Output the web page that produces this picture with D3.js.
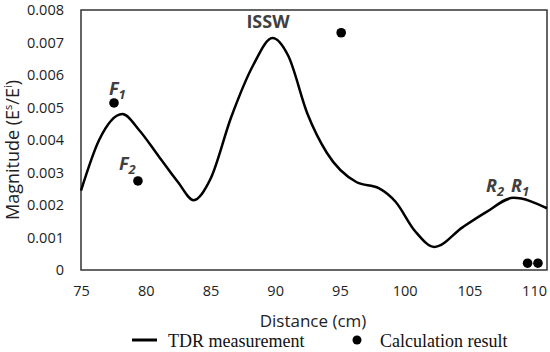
<html>
<head>
<style>
  body { margin: 0; background: #fff; }
  text { font-family: "Open Sans", sans-serif; }
</style>
</head>
<body>
<script src="https://cdn.jsdelivr.net/npm/d3@7"></script>
<script>
// TDR measurement curve (distance cm, magnitude)
var tdrX = [75, 76.4, 78.2, 79.5, 81.0, 82.5, 83.7, 85.0, 86.6, 88.3, 89.8,
            91.0, 92.5, 94.0, 96.3, 98.0, 99.3, 100.8, 102.3, 104.5, 106.3, 108.4, 111];
var tdrY = [0.00244, 0.0040, 0.0048, 0.0043, 0.0035, 0.0027, 0.00215, 0.0028, 0.0047, 0.0063, 0.00714,
            0.0066, 0.0048, 0.0036, 0.0027, 0.00252, 0.0021, 0.0012, 0.00071, 0.00132, 0.00178, 0.00222, 0.0019];
// calculation result points
var calcX = [77.55, 79.4, 95.1, 109.5, 110.3];
var calcY = [0.00514, 0.00274, 0.0073, 0.00021, 0.00021];
var xTicks = [75, 80, 85, 90, 95, 100, 105, 110];
var yTicks = [0, 0.001, 0.002, 0.003, 0.004, 0.005, 0.006, 0.007, 0.008];

var width = 550, height = 352;
var svg = d3.select('body').append('svg')
    .attr('width', width)
    .attr('height', height);

var padding = {left: 81, right: 3, top: 10, bottom: 82};

var xScale = d3.scaleLinear().domain([75, 111]).range([padding.left, width - padding.right]);
var yScale = d3.scaleLinear().domain([0, 0.008]).range([height - padding.bottom, padding.top]);

// frame
svg.append('rect')
    .attr('x', xScale(75)).attr('y', yScale(0.008))
    .attr('width', xScale(111) - xScale(75))
    .attr('height', yScale(0) - yScale(0.008))
    .attr('fill', 'none').attr('stroke', '#333').attr('stroke-width', 1.5);

// axes (labels only)
var xAxis = d3.axisBottom(xScale).tickValues(xTicks).tickSize(0).tickPadding(16);
svg.append('g')
    .attr('transform', 'translate(0,' + yScale(0) + ')')
    .call(xAxis)
    .call(function(g){ g.select('.domain').remove(); })
    .selectAll('text')
    .attr('font-size', 14.5).attr('fill', '#222')
    .style('font-family', '"Open Sans", sans-serif');

var yAxis = d3.axisLeft(yScale).tickValues(yTicks).tickSize(0).tickPadding(17)
    .tickFormat(function(d){ return d === 0 ? '0' : d3.format('.3f')(d); });
svg.append('g')
    .attr('transform', 'translate(' + xScale(75) + ',0)')
    .call(yAxis)
    .call(function(g){ g.select('.domain').remove(); })
    .selectAll('text')
    .attr('font-size', 14.5).attr('fill', '#222')
    .style('font-family', '"Open Sans", sans-serif');

// curve
var line = d3.line()
    .x(function(d, i){ return xScale(tdrX[i]); })
    .y(function(d, i){ return yScale(tdrY[i]); })
    .curve(d3.curveMonotoneX);
svg.append('path')
    .datum(tdrX)
    .attr('d', line)
    .attr('fill', 'none').attr('stroke', '#000').attr('stroke-width', 2.5);

// points
svg.selectAll('circle.calc')
    .data(calcX)
    .enter().append('circle')
    .attr('class', 'calc')
    .attr('cx', function(d){ return xScale(d); })
    .attr('cy', function(d, i){ return yScale(calcY[i]); })
    .attr('r', 4.8)
    .attr('fill', '#000');

// annotations
function label(x, y, main, sub){
    var t = svg.append('text')
        .attr('x', x).attr('y', y)
        .attr('font-size', 18).attr('font-weight', 'bold').attr('font-style', 'italic')
        .attr('fill', '#404040');
    t.append('tspan').text(main);
    t.append('tspan').attr('dy', 4).attr('font-size', 13).text(sub);
}
label(109, 95, 'F', '1');
label(119, 170, 'F', '2');
label(486, 192, 'R', '2');
label(511, 192, 'R', '1');

svg.append('text')
    .attr('x', 268).attr('y', 28)
    .attr('text-anchor', 'middle')
    .attr('font-size', 18).attr('font-weight', 'bold')
    .attr('fill', '#404040')
    .text('ISSW');

// axis titles
svg.append('text')
    .attr('x', 313).attr('y', 327)
    .attr('text-anchor', 'middle')
    .attr('font-size', 17).attr('fill', '#222')
    .text('Distance (cm)');

var yt = svg.append('text')
    .attr('transform', 'translate(19,150) rotate(-90)')
    .attr('text-anchor', 'middle')
    .attr('font-size', 18).attr('fill', '#222');
yt.append('tspan').text('Magnitude (E');
yt.append('tspan').attr('dy', -7).attr('font-size', 11).text('s');
yt.append('tspan').attr('dy', 7).text('/E');
yt.append('tspan').attr('dy', -7).attr('font-size', 11).text('i');
yt.append('tspan').attr('dy', 7).text(')');

// legend
svg.append('line')
    .attr('x1', 132).attr('x2', 157).attr('y1', 340).attr('y2', 340)
    .attr('stroke', '#000').attr('stroke-width', 3);
svg.append('text')
    .attr('x', 168).attr('y', 347)
    .attr('font-size', 18).attr('fill', '#111')
    .style('font-family', '"Liberation Serif", serif')
    .text('TDR measurement');
svg.append('circle')
    .attr('cx', 357).attr('cy', 340).attr('r', 4.5).attr('fill', '#000');
svg.append('text')
    .attr('x', 380).attr('y', 347)
    .attr('font-size', 18).attr('fill', '#111')
    .style('font-family', '"Liberation Serif", serif')
    .text('Calculation result');
</script>
</body>
</html>
